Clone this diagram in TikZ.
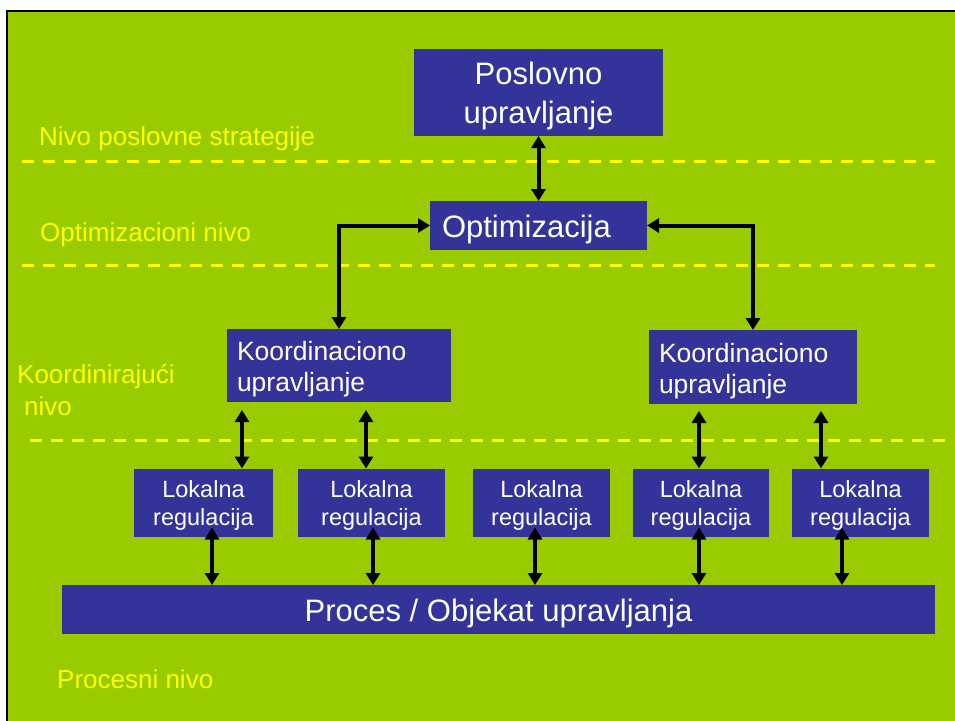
\documentclass[tikz,border=0pt]{standalone}
\usepackage{fontspec}
\setmainfont{Liberation Sans}
\usetikzlibrary{arrows.meta}
\definecolor{slidegreen}{HTML}{99CC00}
\definecolor{boxblue}{HTML}{333399}
\definecolor{levelyellow}{HTML}{FFFF00}
\begin{document}
\begin{tikzpicture}[x=1pt,y=-1pt,
  box/.style={fill=boxblue,text=white,inner sep=0pt,outer sep=0pt},
  bigtxt/.style={font=\fontsize{31}{39}\selectfont},
  midtxt/.style={font=\fontsize{26.5}{31}\selectfont},
  smalltxt/.style={font=\fontsize{23.5}{28}\selectfont},
  level/.style={text=levelyellow,inner sep=0pt,anchor=base west,font=\fontsize{26}{32}\selectfont},
  divider/.style={draw=levelyellow,line width=3pt,dash pattern=on 12pt off 9pt},
  link/.style={draw=black,line width=4pt,{Triangle[width=14pt,length=12pt]}-{Triangle[width=14pt,length=12pt]}},
]
\useasboundingbox (0,0) rectangle (955,720);
\fill[white] (0,0) rectangle (955,720);
\clip (0,0) rectangle (955,720);
% slide area
\draw[fill=slidegreen,draw=black,line width=2.5pt] (7,11) rectangle (1000,760);

% level dividers
\draw[divider] (22,161) -- (935,161);
\draw[divider] (22,265) -- (935,265);
\draw[divider] (30,440) -- (945,440);

% level names
\node[level] (lvstrat) at (39,145) {Nivo poslovne strategije};
\node[level] (lvopt) at (40,241) {Optimizacioni nivo};
\node[level,align=left] (lvkoord) at (17,415) {Koordinirajući\\\hspace*{7pt}nivo};
\node[level] (lvproc) at (57,688) {Procesni nivo};

% blocks
\node[box,bigtxt,minimum width=249pt,minimum height=87pt,align=center,text depth=-2.5pt] (pos) at (538.5,92.5) {Poslovno\\upravljanje};
\node[box,bigtxt,minimum height=49pt,inner xsep=12pt,text width=193pt,align=left,text height=23pt,text depth=0pt] (opt) at (538.5,225.5) {Optimizacija};
\node[box,midtxt,minimum height=73pt,inner xsep=10pt,text width=204pt,align=left,text depth=28.5pt] (k1) at (339,365.5) {Koordinaciono\\upravljanje};
\node[box,midtxt,minimum height=74pt,inner xsep=10pt,text width=188pt,align=left,text depth=28.5pt] (k2) at (753,367) {Koordinaciono\\upravljanje};
\tikzset{lokal/.style={box,smalltxt,minimum height=68pt,align=center,text depth=-3pt}}
\node[lokal,minimum width=139pt] (l1) at (203.5,502.5) {Lokalna\\regulacija};
\node[lokal,minimum width=147pt] (l2) at (371.5,502.5) {Lokalna\\regulacija};
\node[lokal,minimum width=137pt] (l3) at (541.5,502.5) {Lokalna\\regulacija};
\node[lokal,minimum width=136pt] (l4) at (701,502.5) {Lokalna\\regulacija};
\node[lokal,minimum width=137pt] (l5) at (860.5,502.5) {Lokalna\\regulacija};
\node[box,bigtxt,minimum width=873pt,minimum height=49pt,text height=23pt,text depth=0pt] (proc) at (498.5,609.5) {Proces / Objekat upravljanja};

% connector columns
\coordinate (ka) at (242,0);
\coordinate (kb) at (366,0);
\coordinate (kc) at (699,0);
\coordinate (kd) at (821,0);
\coordinate (pa) at (212,0);
\coordinate (pb) at (373,0);
\coordinate (pc) at (535,0);
\coordinate (pd) at (699,0);
\coordinate (pe) at (842,0);

% connectors
\draw[link] (pos.south) -- (opt.north);
\draw[link] (opt.west) -| (k1.north);
\draw[link] (opt.east) -| (k2.north);
\draw[link,shorten <=8pt] (k1.south -| ka) -- (l1.north -| ka);
\draw[link,shorten <=8pt] (k1.south -| kb) -- (l2.north -| kb);
\draw[link,shorten <=7pt] (k2.south -| kc) -- (l4.north -| kc);
\draw[link,shorten <=7pt] (k2.south -| kd) -- (l5.north -| kd);
\draw[link,shorten <=-9pt] (l1.south -| pa) -- (proc.north -| pa);
\draw[link,shorten <=-9pt] (l2.south -| pb) -- (proc.north -| pb);
\draw[link,shorten <=-9pt] (l3.south -| pc) -- (proc.north -| pc);
\draw[link,shorten <=-9pt] (l4.south -| pd) -- (proc.north -| pd);
\draw[link,shorten <=-9pt] (l5.south -| pe) -- (proc.north -| pe);
\end{tikzpicture}
\end{document}
